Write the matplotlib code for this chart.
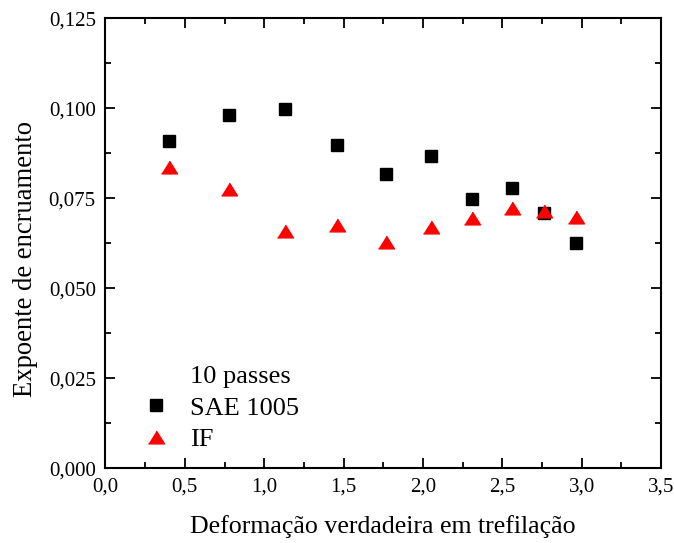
import matplotlib.pyplot as plt
from matplotlib.lines import Line2D
from matplotlib.ticker import MultipleLocator, FuncFormatter

# deformation (x) and hardening exponent (y)
deformacao = [0.40, 0.776, 1.133, 1.459, 1.769, 2.053, 2.311, 2.560, 2.765, 2.963]
n_sae = [0.0909, 0.0980, 0.0999, 0.0898, 0.0818, 0.0868, 0.0748, 0.0778, 0.0708, 0.0627]
n_if = [0.0837, 0.0775, 0.0660, 0.0676, 0.0628, 0.0669, 0.0694, 0.0724, 0.0714, 0.0698]

plt.rcParams['font.family'] = ['Liberation Serif', 'DejaVu Serif']

fig = plt.figure(figsize=(6.74, 5.43), dpi=100)
ax = fig.add_axes([0.1565, 0.1376, 0.8242, 0.9663 - 0.1376])

tri = [(-1, -0.8), (1, -0.8), (0, 0.8)]
ax.plot(deformacao, n_sae, linestyle='none', marker='s', ms=8.6,
        color='black', label='SAE 1005')
ax.plot(deformacao, n_if, linestyle='none', marker=tri, ms=11.5,
        color='red', label='IF')

ax.set_xlim(0, 3.5)
ax.set_ylim(0, 0.125)
ax.xaxis.set_major_locator(MultipleLocator(0.5))
ax.xaxis.set_minor_locator(MultipleLocator(0.25))
ax.yaxis.set_major_locator(MultipleLocator(0.025))
ax.yaxis.set_minor_locator(MultipleLocator(0.0125))
ax.xaxis.set_major_formatter(FuncFormatter(lambda v, p: f"{v:.1f}".replace('.', ',')))
ax.yaxis.set_major_formatter(FuncFormatter(lambda v, p: f"{v:.3f}".replace('.', ',')))
ax.tick_params(which='both', direction='in', top=True, right=True, width=1.3)
ax.tick_params(which='major', length=7, labelsize=15, pad=7)
ax.tick_params(which='minor', length=4)
for s in ax.spines.values():
    s.set_linewidth(1.5)

ax.set_xlabel('Deformação verdadeira em trefilação', fontsize=18.6, labelpad=13)
ax.set_ylabel('Expoente de encruamento', fontsize=19.2)
ax.yaxis.set_label_coords(-0.122, 0.464)

blank = Line2D([], [], linestyle='none')
handles, labels = ax.get_legend_handles_labels()
ax.legend([blank] + handles, ['10 passes'] + labels, loc='lower left',
          bbox_to_anchor=(0.046, 0.015), frameon=False, fontsize=19,
          handlelength=1.1, handletextpad=0.75, labelspacing=0.3,
          borderaxespad=0)

fig.savefig('out.png', dpi=100)
